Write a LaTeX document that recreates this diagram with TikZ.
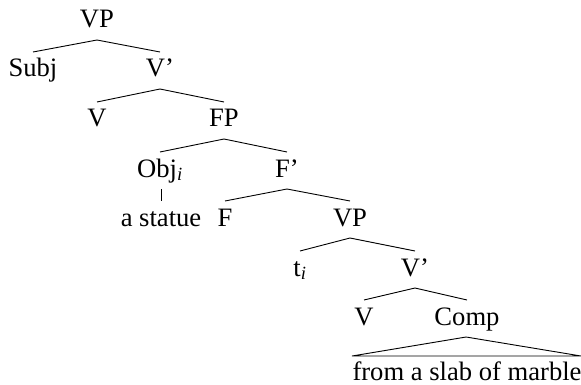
\documentclass[tikz,border=0pt]{standalone}
\usepackage{fontspec}
\setmainfont{Liberation Serif}
\usetikzlibrary{calc}
\begin{document}
\begin{tikzpicture}[x=1pt,y=-1pt,
  lab/.style={anchor=base,inner sep=0pt,font=\fontsize{26.6}{31}\selectfont},
  br/.style={line width=0.9pt,line join=miter}]
\useasboundingbox (0,0) rectangle (581,385);
\node[lab] (vp1) at (97,28) {VP};
\node[lab] (subj) at (33,77) {Subj};
\node[lab] (vb1) at (160,77) {V’};
\node[lab] (v1) at (97,127) {V};
\node[lab] (fp) at (224,127) {FP};
\node[lab] (obj) at (160,177) {Obj\textsubscript{\itshape i}};
\node[lab] (fb) at (287,177) {F’};
\node[lab] (stat) at (161,226) {a statue};
\node[lab] (f) at (225,226) {F};
\node[lab] (vp2) at (350,226) {VP};
\node[lab] (t) at (300,276) {t\textsubscript{\itshape i}};
\node[lab] (vb2) at (415,276) {V’};
\node[lab] (v2) at (364,325) {V};
\node[lab] (comp) at (467,325) {Comp};
\node[lab] (marb) at (467,380) {from a slab of marble};
\foreach \p/\l/\r in {vp1/subj/vb1, vb1/v1/fp, fp/obj/fb, fb/f/vp2, vp2/t/vb2, vb2/v2/comp}{
  \draw[br] ($(\l.base)+(0,-25)$) -- ($(\p.base)+(0,12)$) -- ($(\r.base)+(0,-25)$);
}
\draw[br] ($(obj.base)+(1,12)$) -- ($(stat.base)+(0,-25)$);
\draw[br] ($(comp.base)+(-1,12)$) -- ($(marb.base)+(-115,-24)$) -- ($(marb.base)+(114,-24)$) -- cycle;
\end{tikzpicture}
\end{document}
